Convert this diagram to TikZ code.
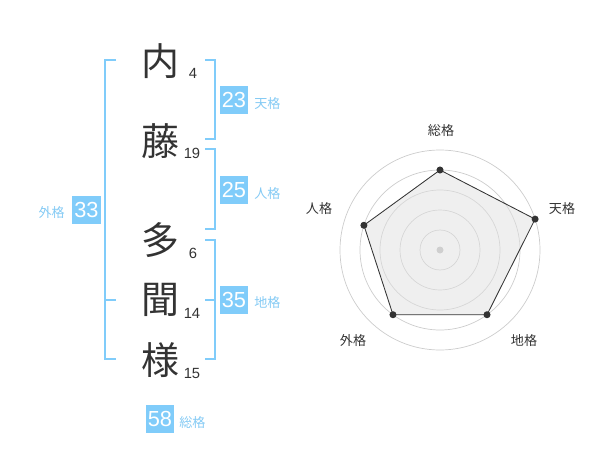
\documentclass[tikz,border=0pt]{standalone}
\usepackage{fontspec}
\setmainfont{Liberation Sans}
\newfontfamily\cjk{Noto Sans CJK JP}
\usetikzlibrary{positioning}
\definecolor{kaku}{RGB}{128,204,250}
\definecolor{kakutext}{RGB}{132,202,244}
\definecolor{ink}{RGB}{51,51,51}
\tikzset{
  kanji/.style={text=ink,font=\cjk\fontsize{27}{27}\selectfont,inner sep=0pt},
  strokes/.style={text=ink,font=\fontsize{10.5}{10.5}\selectfont,inner sep=0pt},
  kakubox/.style={fill=kaku,text=white,minimum width=20pt,minimum height=20pt,inner sep=0pt,font=\fontsize{15.5}{15.5}\selectfont},
  kakuname/.style={text=kakutext,font=\cjk\fontsize{9.3}{9.3}\selectfont,inner sep=0pt},
  bracket/.style={draw=kaku,line width=1.4pt},
  ring/.style={draw=black!20,line width=0.5pt},
  axisname/.style={text=ink,font=\cjk\fontsize{9.3}{9.3}\selectfont,inner sep=0pt},
  dot/.style={circle,fill=ink,inner sep=0pt,minimum size=5pt}
}
\begin{document}
\begin{tikzpicture}[x=0.025cm,y=0.025cm]
\useasboundingbox (0,0) rectangle (600,470);

% name characters and stroke counts
\node[kanji] (K1) at (160,409) {内};
\node[kanji] (K2) at (160,329) {藤};
\node[kanji] (K3) at (160,230) {多};
\node[kanji] (K4) at (160,170) {聞};
\node[kanji] (K5) at (160,110) {様};
\node[strokes] (S1) at (193,397) {4};
\node[strokes] (S2) at (192,317) {19};
\node[strokes] (S3) at (193,217) {6};
\node[strokes] (S4) at (192,157) {14};
\node[strokes] (S5) at (192,97) {15};

% brackets
\draw[bracket] (116,410) -- (105,410) -- (105,111) -- (116,111);
\draw[bracket] (105,170) -- (116,170);
\draw[bracket] (205,410) -- (215,410) -- (215,331) -- (205,331);
\draw[bracket] (205,321) -- (215,321) -- (215,241) -- (205,241);
\draw[bracket] (205,230) -- (215,230) -- (215,111) -- (205,111);
\draw[bracket] (205,170) -- (215,170);

% scores
\node[kakubox] (ten) at (234,370) {23};
\node[kakuname,anchor=west] (tenL) at (254,366) {天格};
\node[kakubox] (jin) at (234,280) {25};
\node[kakuname,anchor=west] (jinL) at (254,276) {人格};
\node[kakubox] (gai) at (86.5,260) {33};
\node[kakuname,anchor=east] (gaiL) at (65,257) {外格};
\node[kakubox] (chi) at (234,170) {35};
\node[kakuname,anchor=west] (chiL) at (254,167) {地格};
\node[kakubox] (sou) at (160,51) {58};
\node[kakuname,anchor=west] (souL) at (179,47) {総格};

% radar chart
\begin{scope}[shift={(440,220)}]
\foreach \r in {20,40,60,80,100}
  \draw[ring] (0,0) circle (\r);
\fill[black!25] (0,0) circle (3.5);
\coordinate (P1) at (90:80);
\coordinate (P2) at (18:100);
\coordinate (P3) at (-54:80);
\coordinate (P4) at (-126:80);
\coordinate (P5) at (162:80);
\filldraw[fill=black!12,fill opacity=0.5,draw=ink,line width=0.6pt]
  (P1) -- (P2) -- (P3) -- (P4) -- (P5) -- cycle;
\foreach \p in {P1,P2,P3,P4,P5}
  \node[dot] at (\p) {};
\node[axisname] (A1) at (1,119) {総格};
\node[axisname] (A2) at (122,41) {天格};
\node[axisname] (A3) at (84,-91) {地格};
\node[axisname] (A4) at (-87,-91) {外格};
\node[axisname] (A5) at (-121,41) {人格};
\end{scope}
\end{tikzpicture}
\end{document}
